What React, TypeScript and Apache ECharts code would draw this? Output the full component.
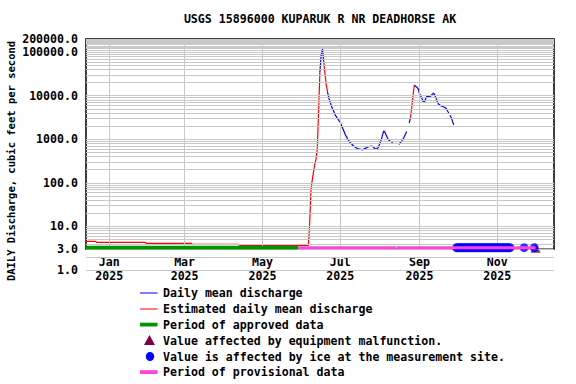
import React, { useEffect, useRef } from 'react';
import * as echarts from 'echarts';

const FONT = '"DejaVu Sans Mono", "Liberation Mono", monospace';

const TITLE = 'USGS 15896000 KUPARUK R NR DEADHORSE AK';
const Y_TITLE = 'DAILY Discharge, cubic feet per second';

// time helpers (UTC)
const d = (s: string) => Date.parse(s.length > 10 ? s + 'Z' : s + 'T00:00:00Z');

const X_START = '2024-12-13T18:00:00';
const X_END = '2025-12-15T10:00:00';

const monthTicks = ['2025-01-01', '2025-03-01', '2025-05-01', '2025-07-01', '2025-09-01', '2025-11-01'];
const monthNames = ['Jan', 'Feb', 'Mar', 'Apr', 'May', 'Jun', 'Jul', 'Aug', 'Sep', 'Oct', 'Nov', 'Dec'];

const Y_MIN = 1;
const Y_MAX = 200000;
const FRAME_BOTTOM = 3;
const yTickLabels = [1, 3, 10, 100, 1000, 10000, 100000, 200000];
const gridMultipliers = [1, 2, 3, 4, 5, 6, 7, 8, 9];
const gridDecades = [1, 10, 100, 1000, 10000];
const gridTop = [100000, 110000, 120000, 130000, 140000, 150000, 160000, 170000, 180000, 190000, 200000];

// Estimated daily mean discharge (red)
const estimated: [string, number | string][] = [
  ['2024-12-13', 4.56], ['2024-12-21', 4.56], ['2024-12-22', 4.32], ['2025-01-29', 4.32],
  ['2025-01-30', 4.1], ['2025-03-06', 4.1], ['2025-03-07', 3.89], ['2025-04-12', 3.89],
  ['2025-04-13', 3.69], ['2025-06-06', 3.69],
  ['2025-06-07', 12], ['2025-06-08', 68], ['2025-06-09', 116], ['2025-06-10', 178],
  ['2025-06-11', 270], ['2025-06-12', 350], ['2025-06-13', 630], ['2025-06-14', 4700],
  ['2025-06-15', 35000], ['2025-06-16', '-'],
  ['2025-06-18', 62000], ['2025-06-19', 31000], ['2025-06-20', 17600], ['2025-06-21', 12300],
  ['2025-06-22', '-'],
  ['2025-08-25', 3160], ['2025-08-26', 5500], ['2025-08-27', 10400], ['2025-08-28', 17600],
];

// Daily mean discharge (blue)
const dailyMean: [string, number | string][] = [
  ['2025-06-15', 35000], ['2025-06-16', 85700], ['2025-06-17', 117800], ['2025-06-18', 62000],
  ['2025-06-19', '-'],
  ['2025-06-21', 12300], ['2025-06-22', 8700], ['2025-06-23', 7200], ['2025-06-24', 5800],
  ['2025-06-25', 4940], ['2025-06-26', 4260], ['2025-06-27', 3600], ['2025-06-28', 3260],
  ['2025-06-29', 2950], ['2025-06-30', 2660], ['2025-07-01', 2430], ['2025-07-02', 2070],
  ['2025-07-03', 1740], ['2025-07-04', 1490], ['2025-07-05', 1250], ['2025-07-06', 1130],
  ['2025-07-07', 980], ['2025-07-08', 900], ['2025-07-09', 830], ['2025-07-10', 770],
  ['2025-07-11', 710], ['2025-07-12', 680], ['2025-07-13', 650], ['2025-07-14', 625],
  ['2025-07-15', 600], ['2025-07-16', 595], ['2025-07-17', 585], ['2025-07-18', 567],
  ['2025-07-19', 590], ['2025-07-20', 610], ['2025-07-21', 625], ['2025-07-22', 650],
  ['2025-07-23', 675], ['2025-07-24', 680], ['2025-07-25', 700], ['2025-07-26', 690],
  ['2025-07-27', 660], ['2025-07-28', 610], ['2025-07-29', 595], ['2025-07-30', 610],
  ['2025-07-31', 680], ['2025-08-01', 800], ['2025-08-02', 960], ['2025-08-03', 1230],
  ['2025-08-04', 1550], ['2025-08-05', 1450], ['2025-08-06', 1230], ['2025-08-07', 1050],
  ['2025-08-08', 960], ['2025-08-09', 900], ['2025-08-10', 890], ['2025-08-11', 810],
  ['2025-08-12', '-'],
  ['2025-08-16', 760], ['2025-08-17', 840], ['2025-08-18', 910], ['2025-08-19', 1000],
  ['2025-08-20', 1130], ['2025-08-21', 1310], ['2025-08-22', 1500],
  ['2025-08-23', '-'],
  ['2025-08-24', 2360], ['2025-08-25', 3160],
  ['2025-08-26', '-'],
  ['2025-08-28', 17600], ['2025-08-29', 16400], ['2025-08-30', 15700], ['2025-08-31', 14300],
  ['2025-09-01', 11200], ['2025-09-02', 9900], ['2025-09-03', 8600], ['2025-09-04', 7200],
  ['2025-09-05', 7300], ['2025-09-06', 8600], ['2025-09-07', 10000], ['2025-09-08', 9500],
  ['2025-09-09', 9400], ['2025-09-10', 9900], ['2025-09-11', 10800], ['2025-09-12', 11400],
  ['2025-09-13', 10400], ['2025-09-14', 8800], ['2025-09-15', 7400], ['2025-09-16', 6400],
  ['2025-09-17', 6100], ['2025-09-18', 5800], ['2025-09-19', 5650], ['2025-09-20', 5500],
  ['2025-09-21', 5350], ['2025-09-22', 5070], ['2025-09-23', 4450], ['2025-09-24', 4000],
  ['2025-09-24T12:00:00', '-'],
  ['2025-09-25', 3570], ['2025-09-26', 3100], ['2025-09-27', 2500], ['2025-09-28', 2150],
];

// Qualifier / period markers plotted along the bottom of the frame
const MARK_LEVEL = 3.25;
const iceRanges: [string, string][] = [
  ['2025-09-30', '2025-11-11'],
  ['2025-11-22', '2025-11-22'],
  ['2025-11-30', '2025-11-30'],
];
const equipmentDates = ['2025-12-01'];
const approvedPeriods: [string, string][] = [[X_START, '2025-05-29']];
const provisionalPeriods: [string, string][] = [
  ['2025-05-29', '2025-08-13T14:00:00'],
  ['2025-08-14', '2025-12-01'],
];

const DAY = 86400000;
function expandRanges(ranges: [string, string][]) {
  const out: [number, number][] = [];
  ranges.forEach(([a, b]) => {
    for (let t = d(a); t <= d(b); t += DAY) out.push([t, MARK_LEVEL]);
  });
  return out;
}
function periodsToLine(periods: [string, string][]) {
  const out: [number, number | string][] = [];
  periods.forEach(([a, b], i) => {
    if (i > 0) out.push([(d(periods[i - 1][1]) + d(a)) / 2, '-']);
    out.push([d(a), MARK_LEVEL]);
    out.push([d(b), MARK_LEVEL]);
  });
  return out;
}

const legendItems = [
  { kind: 'line', color: '#0000ff', text: 'Daily mean discharge' },
  { kind: 'line', color: '#ff0000', text: 'Estimated daily mean discharge' },
  { kind: 'bar', color: '#009600', text: 'Period of approved data' },
  { kind: 'triangle', color: '#800040', text: 'Value affected by equipment malfunction.' },
  { kind: 'ellipse', color: '#0000ff', text: 'Value is affected by ice at the measurement site.' },
  { kind: 'bar', color: '#ff44dd', text: 'Period of provisional data' },
];
const legendRowY = [293, 309, 324.5, 340.5, 356.5, 372];

function buildOption() {
  const xMin = d(X_START);
  const xMax = d(X_END);
  const gridValues: number[] = [];
  gridDecades.forEach((dec) => gridMultipliers.forEach((m) => gridValues.push(m * dec)));
  gridTop.forEach((v) => gridValues.push(v));
  const uniq = Array.from(new Set(gridValues));

  const hLines = uniq.map((v) => {
    const labeled = yTickLabels.indexOf(v) >= 0;
    return {
      yAxis: v,
      label: labeled
        ? {
            show: true,
            position: 'start',
            distance: 8,
            formatter: v.toFixed(1),
            color: '#000',
            fontFamily: FONT,
            fontWeight: 'bold',
            fontSize: 11.6,
          }
        : { show: false },
    };
  });
  const vLines = monthTicks.map((m) => [
    { coord: [d(m), FRAME_BOTTOM] },
    { coord: [d(m), Y_MAX] },
  ]);

  const legendGraphics: any[] = [];
  legendItems.forEach((it, i) => {
    const y = legendRowY[i];
    if (it.kind === 'line') {
      legendGraphics.push({
        type: 'line',
        shape: { x1: 140, y1: y, x2: 157.5, y2: y },
        style: { stroke: it.color, lineWidth: 1 },
      });
    } else if (it.kind === 'bar') {
      legendGraphics.push({
        type: 'rect',
        shape: { x: 140, y: y - 1.8, width: 17.5, height: 3.8 },
        style: { fill: it.color },
      });
    } else if (it.kind === 'triangle') {
      legendGraphics.push({
        type: 'polygon',
        shape: { points: [[149.5, y - 5.5], [144, y + 4.5], [155, y + 4.5]] },
        style: { fill: it.color },
      });
    } else {
      legendGraphics.push({
        type: 'ellipse',
        shape: { cx: 150, cy: y, rx: 4.2, ry: 4.6 },
        style: { fill: it.color },
      });
    }
    legendGraphics.push({
      type: 'text',
      x: 163,
      y,
      style: {
        text: it.text,
        fill: '#000',
        font: `bold 11.6px ${FONT}`,
        verticalAlign: 'middle',
        align: 'left',
      },
    });
  });

  const toSeries = (arr: [string, number | string][]) => arr.map(([s, v]) => [d(s), v]);

  return {
    animation: false,
    backgroundColor: '#fff',
    grid: { left: 86, right: 22, top: 39, bottom: 114 },
    xAxis: {
      type: 'value',
      min: xMin,
      max: xMax,
      axisLine: { show: false },
      axisTick: { show: false },
      splitLine: { show: false },
      axisLabel: {
        customValues: monthTicks.map(d),
        formatter: (v: number) => {
          const dt = new Date(v);
          return monthNames[dt.getUTCMonth()] + '\n' + dt.getUTCFullYear();
        },
        color: '#000',
        fontFamily: FONT,
        fontWeight: 'bold',
        fontSize: 11.6,
        lineHeight: 14,
        margin: -15,
        hideOverlap: false,
      },
    },
    yAxis: {
      type: 'log',
      logBase: 10,
      min: Y_MIN,
      max: Y_MAX,
      axisLine: { show: false },
      axisTick: { show: false },
      axisLabel: { show: false },
      splitLine: { show: false },
    },
    graphic: [
      {
        type: 'text',
        x: 320,
        y: 19,
        style: { text: TITLE, fill: '#000', font: `bold 11.6px ${FONT}`, align: 'center', verticalAlign: 'middle' },
      },
      {
        type: 'text',
        x: 11,
        y: 161,
        rotation: Math.PI / 2,
        style: { text: Y_TITLE, fill: '#000', font: `bold 10.5px ${FONT}`, align: 'center', verticalAlign: 'middle' },
      },
      ...legendGraphics,
    ],
    series: [
      {
        type: 'line',
        data: [],
        z: 1,
        silent: true,
        markLine: {
          silent: true,
          animation: false,
          symbol: ['none', 'none'],
          lineStyle: { color: '#c8c8c8', width: 1, type: 'solid' },
          label: { show: false },
          emphasis: { disabled: true },
          data: [...hLines, ...vLines],
        },
      },
      {
        type: 'line',
        data: [],
        z: 2,
        silent: true,
        markArea: {
          silent: true,
          itemStyle: { color: 'rgba(0,0,0,0)', borderColor: '#000', borderWidth: 1.5 },
          emphasis: { disabled: true },
          data: [[{ coord: [xMin, FRAME_BOTTOM] }, { coord: [xMax, Y_MAX] }]],
        },
      },
      {
        name: 'Estimated daily mean discharge',
        type: 'line',
        data: toSeries(estimated),
        showSymbol: false,
        symbol: 'none',
        z: 3,
        lineStyle: { color: '#ff0000', width: 1.2 },
        itemStyle: { color: '#ff0000' },
      },
      {
        name: 'Daily mean discharge',
        type: 'line',
        data: toSeries(dailyMean),
        showSymbol: false,
        symbol: 'none',
        z: 3,
        lineStyle: { color: '#0000ff', width: 1.2 },
        itemStyle: { color: '#0000ff' },
      },
      {
        name: 'Value affected by equipment malfunction.',
        type: 'scatter',
        data: equipmentDates.map((s) => [d(s), MARK_LEVEL]),
        symbol: 'triangle',
        symbolSize: [10, 10],
        z: 4,
        itemStyle: { color: '#800040' },
      },
      {
        name: 'Value is affected by ice at the measurement site.',
        type: 'scatter',
        data: expandRanges(iceRanges),
        symbol: 'circle',
        symbolSize: [8.6, 9],
        z: 5,
        itemStyle: { color: '#0000ff' },
      },
      {
        name: 'Period of approved data',
        type: 'line',
        data: periodsToLine(approvedPeriods),
        showSymbol: false,
        symbol: 'none',
        z: 6,
        lineStyle: { color: '#009600', width: 3.8, cap: 'butt' },
      },
      {
        name: 'Period of provisional data',
        type: 'line',
        data: periodsToLine(provisionalPeriods),
        showSymbol: false,
        symbol: 'none',
        z: 7,
        lineStyle: { color: '#ff44dd', width: 3, cap: 'butt' },
      },
    ],
  };
}

export default function App() {
  const ref = useRef<HTMLDivElement>(null);
  useEffect(() => {
    if (!ref.current) return;
    const chart = echarts.init(ref.current, undefined, { renderer: 'svg' });
    chart.setOption(buildOption() as any);
    return () => chart.dispose();
  }, []);
  return (
    <div
      ref={ref}
      style={{ position: 'fixed', left: 0, top: 0, width: 576, height: 384, background: '#fff' }}
    />
  );
}
